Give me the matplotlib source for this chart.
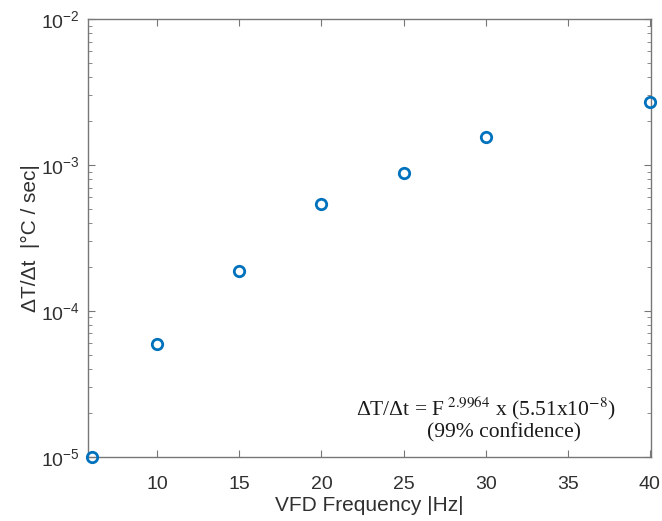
import matplotlib
matplotlib.use("Agg")
import matplotlib.pyplot as plt
from matplotlib.ticker import LogLocator, FixedLocator, NullFormatter

freq = [6, 10, 15, 20, 25, 30, 40]
rate = [1.0e-5, 5.94e-5, 1.88e-4, 5.38e-4, 8.86e-4, 1.55e-3, 2.71e-3]
xticks = [10, 15, 20, 25, 30, 35, 40]
yticks = [1e-5, 1e-4, 1e-3, 1e-2]

plt.rcParams['font.family'] = ['Liberation Sans', 'DejaVu Sans']
fig = plt.figure(figsize=(6.62, 5.21), dpi=100)
ax = fig.add_axes([0.1334, 0.1234, 0.983 - 0.1334, 0.9635 - 0.1234])

ax.plot(freq, rate, linestyle='none', marker='o', markersize=7.5,
        markerfacecolor='none', markeredgecolor='#0072BD', markeredgewidth=2.0,
        clip_on=False, zorder=5)

ax.set_yscale('log')
ax.set_xlim(5.8, 40.05)
ax.set_ylim(1e-5, 1e-2)
ax.xaxis.set_major_locator(FixedLocator(xticks))
ax.yaxis.set_major_locator(FixedLocator(yticks))
ax.yaxis.set_minor_locator(LogLocator(base=10, subs=range(2, 10)))
ax.yaxis.set_minor_formatter(NullFormatter())

axcol = '#777777'
for s in ax.spines.values():
    s.set_color(axcol)
    s.set_linewidth(1.0)
ax.tick_params(which='both', direction='in', top=True, right=True, colors=axcol,
               labelcolor='#303030', labelsize=14)
ax.tick_params(which='major', length=5, width=0.8)
ax.tick_params(which='minor', length=3, width=0.6)
ax.tick_params(axis='x', pad=14)
ax.tick_params(axis='y', pad=6)

ax.set_xlabel('VFD Frequency |Hz|', fontsize=15, color='#303030', labelpad=2)
ax.set_ylabel('ΔT/Δt  |°C / sec|', fontsize=15, color='#303030', labelpad=1)

serif = ['Liberation Serif', 'DejaVu Serif']
ax.text(0.707, 0.11, r'ΔT/Δt = F$^{\,\,2.9964}$ x (5.51x10$^{-8}$)',
        transform=ax.transAxes, ha='center', va='center', fontsize=15.5,
        family=serif, math_fontfamily='stix', color='#1a1a1a')
ax.text(0.739, 0.055, '(99% confidence)',
        transform=ax.transAxes, ha='center', va='center', fontsize=15.5,
        family=serif, color='#1a1a1a')

fig.savefig('out.png', dpi=100, facecolor='white')
